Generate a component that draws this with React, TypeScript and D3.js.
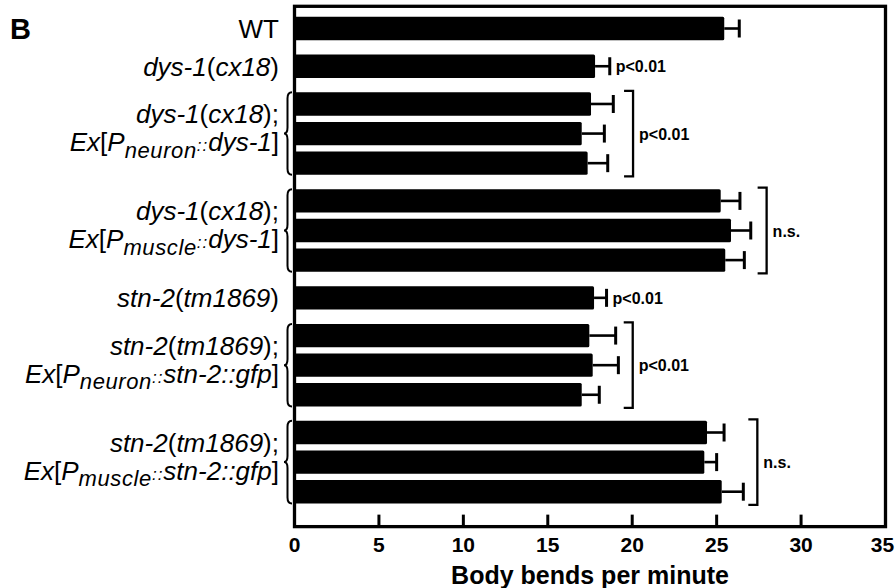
import React, { useMemo } from "react";
import { scaleLinear, path as d3path } from "d3";

// ---- data ----
const PANEL = "B";
const X_TITLE = "Body bends per minute";
const xTicks = [0, 5, 10, 15, 20, 25, 30, 35];

// rows per genotype group
const groupSizes = [1, 1, 3, 3, 1, 3, 3];

// *italic*, _{subscript}, ^{small}
const groupLabels: string[][] = [
  ["WT"],
  ["*dys-1*(*cx18*)"],
  ["*dys-1*(*cx18*);", "*Ex*[*P*_{neuron}^{::}*dys-1*]"],
  ["*dys-1*(*cx18*);", "*Ex*[*P*_{muscle}^{::}*dys-1*]"],
  ["*stn-2*(*tm1869*)"],
  ["*stn-2*(*tm1869*);", "*Ex*[*P*_{neuron}^{::}*stn-2::gfp*]"],
  ["*stn-2*(*tm1869*);", "*Ex*[*P*_{muscle}^{::}*stn-2::gfp*]"],
];

const meanBends = [25.45, 17.8, 17.56, 17.01, 17.36, 25.24, 25.85, 25.51, 17.74, 17.46, 17.66, 17.01, 24.43, 24.27, 25.3];
const semBends = [0.89, 0.87, 1.32, 1.34, 1.19, 1.14, 1.17, 1.13, 0.74, 1.56, 1.52, 1.04, 1.01, 0.73, 1.28];

// significance vs WT, per group
const statLabels = ["", "p<0.01", "p<0.01", "n.s.", "p<0.01", "p<0.01", "n.s."];
const bracketAt: (number | null)[] = [null, null, 20.05, 27.96, null, 20.03, 27.41];

const WIDTH = 895;
const HEIGHT = 588;
const FONT = "Liberation Sans, Arial, Helvetica, sans-serif";
const GAP = 0.275; // extra space between groups, in rows
const LABEL_X = 279;

type Seg = { text: string; italic: boolean; sub: boolean; small: boolean };

function parseLabel(s: string): Seg[] {
  const out: Seg[] = [];
  const re = /\*([^*]+)\*|_\{([^}]+)\}|\^\{([^}]+)\}|([^*_^]+)/g;
  let m: RegExpExecArray | null;
  while ((m = re.exec(s))) {
    if (m[1]) out.push({ text: m[1], italic: true, sub: false, small: false });
    else if (m[2]) out.push({ text: m[2], italic: true, sub: true, small: false });
    else if (m[3]) out.push({ text: m[3], italic: true, sub: false, small: true });
    else if (m[4]) out.push({ text: m[4], italic: false, sub: false, small: false });
  }
  return out;
}

function LabelLine({ text, y }: { text: string; y: number }) {
  const segs = parseLabel(text);
  let shifted = false;
  return (
    <text x={LABEL_X} y={y} textAnchor="end" fontSize={26} fontFamily={FONT} fill="#000">
      {segs.map((seg, i) => {
        let dy = 0;
        if (seg.sub && !shifted) { dy = 6.5; shifted = true; }
        else if (!seg.sub && shifted) { dy = -6.5; shifted = false; }
        return (
          <tspan
            key={i}
            dy={dy || undefined}
            fontStyle={seg.italic ? "italic" : "normal"}
            fontSize={seg.sub ? 22 : seg.small ? 17 : 26}
            letterSpacing={seg.sub ? 0.6 : seg.small ? 1 : undefined}
          >
            {seg.text}
          </tspan>
        );
      })}
    </text>
  );
}

export default function App() {
  const rows = useMemo(() => {
    const list: { i: number; g: number; pos: number; mean: number; sem: number }[] = [];
    let i = 0;
    groupSizes.forEach((n, g) => {
      for (let k = 0; k < n; k++) {
        list.push({ i, g, pos: i + g * GAP, mean: meanBends[i], sem: semBends[i] });
        i++;
      }
    });
    return list;
  }, []);

  const lastPos = rows[rows.length - 1].pos;
  const x = scaleLinear().domain([0, 35]).range([294.5, 885.5]);
  const y = scaleLinear().domain([0, lastPos]).range([28.5, 491.7]);
  const step = y(1) - y(0);
  const barH = step * 0.79;
  const frameTop = y(-0.75);
  const frameBottom = y(lastPos + 1.18);

  const groups = groupSizes.map((n, g) => {
    const rs = rows.filter((r) => r.g === g);
    const top = y(rs[0].pos) - barH / 2;
    const bottom = y(rs[rs.length - 1].pos) + barH / 2;
    const center = (y(rs[0].pos) + y(rs[rs.length - 1].pos)) / 2;
    const maxCap = Math.max(...rs.map((r) => r.mean + r.sem));
    return { g, n, rs, top, bottom, center, maxCap };
  });

  const bracePath = (y1: number, y2: number) => {
    const p = d3path();
    const xr = 292, xm = 287.5, xp = 284;
    const ym = (y1 + y2) / 2;
    p.moveTo(xr, y1);
    p.quadraticCurveTo(xm, y1, xm, y1 + 6);
    p.lineTo(xm, ym - 6);
    p.quadraticCurveTo(xm, ym, xp, ym);
    p.quadraticCurveTo(xm, ym, xm, ym + 6);
    p.lineTo(xm, y2 - 6);
    p.quadraticCurveTo(xm, y2, xr, y2);
    return p.toString();
  };

  return (
    <svg
      width={WIDTH}
      height={HEIGHT}
      viewBox={`0 0 ${WIDTH} ${HEIGHT}`}
      style={{ position: "absolute", left: 0, top: 0, background: "#fff" }}
    >
      <rect width={WIDTH} height={HEIGHT} fill="#fff" />

      {/* panel letter */}
      <text x={10} y={39} fontSize={29} fontWeight="bold" fontFamily={FONT}>
        {PANEL}
      </text>

      {/* bars + error bars */}
      {rows.map((r) => {
        const cy = y(r.pos);
        const xe = x(r.mean);
        const xc = x(r.mean + r.sem);
        return (
          <g key={r.i}>
            <rect x={x(0)} y={cy - barH / 2} width={xe - x(0)} height={barH} fill="#000" rx={1.5} />
            <line x1={xe} x2={xc} y1={cy} y2={cy} stroke="#000" strokeWidth={2.6} />
            <line x1={xc} x2={xc} y1={cy - 9} y2={cy + 9} stroke="#000" strokeWidth={3} />
          </g>
        );
      })}

      {/* frame */}
      <rect
        x={x(0)}
        y={frameTop}
        width={x(35) - x(0)}
        height={frameBottom - frameTop}
        fill="none"
        stroke="#000"
        strokeWidth={3.3}
      />

      {/* inward ticks + labels */}
      {xTicks.map((t) => (
        <g key={t}>
          {t > 0 && t < 35 && (
            <line x1={x(t)} x2={x(t)} y1={frameBottom} y2={frameBottom - 12} stroke="#000" strokeWidth={3} />
          )}
          <text
            x={x(t) - (t === 35 ? 3 : 0)}
            y={551.5}
            textAnchor="middle"
            fontSize={21}
            fontWeight="bold"
            fontFamily={FONT}
          >
            {t}
          </text>
        </g>
      ))}
      <text x={(x(0) + x(35)) / 2} y={584} textAnchor="middle" fontSize={25} fontWeight="bold" fontFamily={FONT}>
        {X_TITLE}
      </text>

      {/* genotype labels, braces, stats */}
      {groups.map((gr) => {
        const lines = groupLabels[gr.g];
        const stat = statLabels[gr.g];
        const br = bracketAt[gr.g];
        return (
          <g key={gr.g}>
            {lines.length === 1 ? (
              <LabelLine text={lines[0]} y={gr.center + 9.5} />
            ) : (
              <>
                <LabelLine text={lines[0]} y={gr.center - 10.5} />
                <LabelLine text={lines[1]} y={gr.center + 17.5} />
              </>
            )}
            {gr.n > 1 && (
              <path d={bracePath(gr.top, gr.bottom)} fill="none" stroke="#000" strokeWidth={2} />
            )}
            {stat && br !== null && (
              <>
                <path
                  d={`M${x(br) - 9},${gr.top - 1.5}H${x(br)}V${gr.bottom + 1.5}H${x(br) - 9}`}
                  fill="none"
                  stroke="#000"
                  strokeWidth={2.3}
                />
                <text x={x(br) + 6} y={gr.center + 6} fontSize={16} fontWeight="bold" fontFamily={FONT}>
                  {stat}
                </text>
              </>
            )}
            {stat && br === null && (
              <text x={x(gr.maxCap) + 6} y={gr.center + 6} fontSize={16} fontWeight="bold" fontFamily={FONT}>
                {stat}
              </text>
            )}
          </g>
        );
      })}
    </svg>
  );
}
